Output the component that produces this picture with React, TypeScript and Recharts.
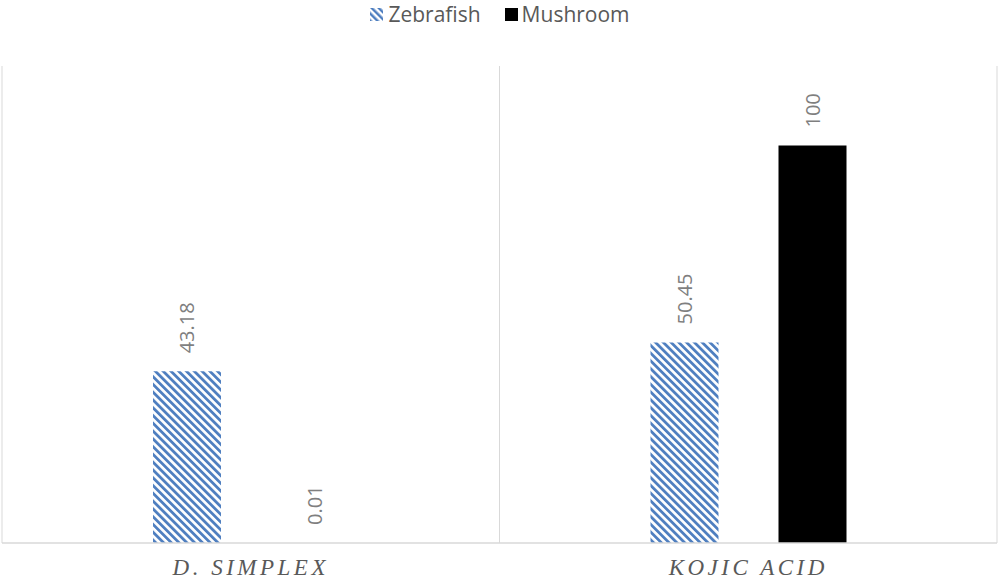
import React from "react";
import { BarChart, Bar, XAxis, YAxis, CartesianGrid, LabelList } from "recharts";

const categories = ["D. SIMPLEX", "KOJIC ACID"];
const zebrafish = [43.18, 50.45];
const mushroom = [0.01, 100];

const data = categories.map((name, i) => ({
    name,
    Zebrafish: zebrafish[i],
    Mushroom: mushroom[i],
}));

const BLUE = "#4f7fc0";

function RotLabel(props: any) {
    const { x, y, width, value } = props;
    const cx = x + width / 2;
    const cy = y - 18;
    return (
        <text
            x={cx}
            y={cy}
            transform={`rotate(-90, ${cx}, ${cy})`}
            textAnchor="start"
            dominantBaseline="central"
            fill="#7f7f7f"
            fontSize={20}
            fontFamily="'Open Sans', sans-serif"
        >
            {value}
        </text>
    );
}

function CatTick(props: any) {
    const { x, y, payload } = props;
    return (
        <text
            x={x}
            y={y + 24}
            textAnchor="middle"
            fill="#595959"
            fontSize={23}
            fontStyle="italic"
            letterSpacing={3.5}
            fontFamily="'Liberation Serif', serif"
        >
            {payload.value}
        </text>
    );
}

export default function App() {
    return (
        <div style={{ position: "relative", width: 1000, height: 580 }}>
            <style>{`body{margin:0;}`}</style>
            {/* legend */}
            <div
                style={{
                    position: "absolute",
                    top: 0,
                    left: 0,
                    width: 1000,
                    height: 28,
                    display: "flex",
                    justifyContent: "center",
                    alignItems: "center",
                    gap: 24,
                    fontFamily: "'Open Sans', sans-serif",
                    fontSize: 21,
                    color: "#595959",
                    lineHeight: "28px",
                }}
            >
                <span style={{ display: "flex", alignItems: "center", gap: 5 }}>
                    <svg width={13} height={13}>
                        <defs>
                            <pattern id="hatchLegend" patternUnits="userSpaceOnUse" width={5} height={5} patternTransform="rotate(-45)">
                                <rect width={5} height={5} fill="#fff" />
                                <rect width={2.5} height={5} fill={BLUE} />
                            </pattern>
                        </defs>
                        <rect width={13} height={13} fill="url(#hatchLegend)" />
                    </svg>
                    Zebrafish
                </span>
                <span style={{ display: "flex", alignItems: "center", gap: 4 }}>
                    <span style={{ width: 13, height: 13, background: "#000", display: "inline-block" }} />
                    Mushroom
                </span>
            </div>
            <BarChart
                width={1000}
                height={580}
                data={data}
                margin={{ top: 66, right: 3, bottom: 0, left: 2 }}
                barSize={68}
                barGap={60}
            >
                <defs>
                    <pattern id="hatch" patternUnits="userSpaceOnUse" width={5.5} height={5.5} patternTransform="rotate(-45)">
                        <rect width={5.5} height={5.5} fill="#fff" />
                        <rect width={2.8} height={5.5} fill={BLUE} />
                    </pattern>
                </defs>
                <CartesianGrid
                    horizontal={false}
                    stroke="#d9d9d9"
                    verticalCoordinatesGenerator={({ offset }: any) => [
                        offset.left,
                        offset.left + offset.width / 2,
                        offset.left + offset.width,
                    ]}
                />
                <XAxis
                    dataKey="name"
                    height={37}
                    tickLine={false}
                    axisLine={{ stroke: "#d9d9d9", strokeWidth: 1.5 }}
                    tick={<CatTick />}
                    interval={0}
                />
                <YAxis hide domain={[0, 120]} />
                <Bar dataKey="Zebrafish" fill="url(#hatch)" isAnimationActive={false}>
                    <LabelList dataKey="Zebrafish" content={<RotLabel />} />
                </Bar>
                <Bar dataKey="Mushroom" fill="#000" isAnimationActive={false}>
                    <LabelList dataKey="Mushroom" content={<RotLabel />} />
                </Bar>
            </BarChart>
        </div>
    );
}
